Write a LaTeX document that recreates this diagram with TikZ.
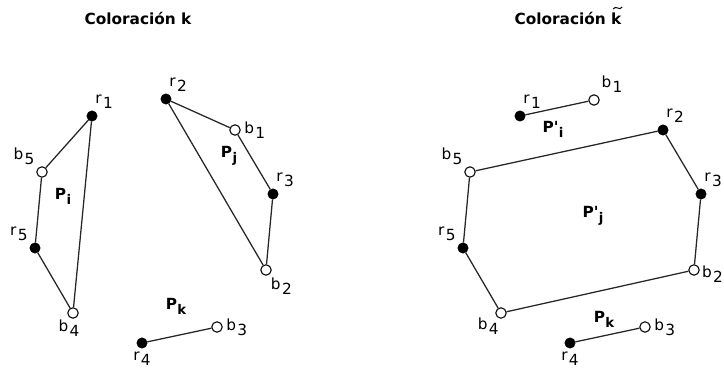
\documentclass[tikz,border=0pt]{standalone}
\usepackage{amsmath,amssymb}
\usepackage{fontspec}
\setmainfont{DejaVu Sans}
\usepackage{tikz}
\usetikzlibrary{positioning,calc}
\newcommand{\vlab}[2]{#1\kern1pt\raisebox{-0.6ex}{#2}}
\newcommand{\plab}[2]{\textbf{#1\kern0.3pt\raisebox{-0.6ex}{\fontsize{10}{12}\selectfont #2}}}
\tikzset{
	rv/.style={circle,draw=black,fill=black,inner sep=0pt,minimum size=7.8pt},
	bv/.style={circle,draw=black,fill=white,line width=0.8pt,inner sep=0pt,minimum size=7.8pt},
	edge/.style={draw=black!85,line width=0.95pt},
	every label/.style={font=\fontsize{11.5}{13}\selectfont,inner sep=2.5pt},
	ptext/.style={font=\fontsize{11.5}{13}\selectfont},
	title/.style={font=\fontsize{11.5}{14}\selectfont\bfseries,inner xsep=0pt},
}
\begin{document}
\begin{tikzpicture}[x=0.75pt,y=-0.75pt]
			\useasboundingbox (0,0) rectangle (724,374);
			% titles
			\node[title] (tk) at (138,18) {Coloración k};
			\node[title] (tkt) at (568,18) {Coloración k};
			% tilde over the k
			\coordinate (tl) at ($(tkt.base east)+(-8.5,-15)$);
			\coordinate (tr) at ($(tkt.base east)+(0.5,-17)$);
			\draw[line width=0.75pt] (tl) .. controls ($(tl)+(2.5,-4.5)$) and ($(tr)+(-2.5,4.5)$) .. (tr);
			% coloring k
			\node[rv,label={[xshift=-3pt]above right:\vlab{r}{1}}] (r1) at (92,116) {};
			\node[bv,label=above left:\vlab{b}{5}] (b5) at (42,172) {};
			\node[rv,label=above left:\vlab{r}{5}] (r5) at (35,248) {};
			\node[bv,label={[xshift=-3pt,yshift=2pt]below:\vlab{b}{4}}] (b4) at (73,313) {};
			\node[rv,label={[xshift=-3pt]above right:\vlab{r}{2}}] (r2) at (166,99) {};
			\node[bv,label=right:\vlab{b}{1}] (b1) at (235,130) {};
			\node[rv,label={[xshift=-3pt]above right:\vlab{r}{3}}] (r3) at (273,194) {};
			\node[bv,label={[xshift=-2pt]below right:\vlab{b}{2}}] (b2) at (266,270) {};
			\node[rv,label=below:\vlab{r}{4}] (r4) at (142,343) {};
			\node[bv,label=right:\vlab{b}{3}] (b3) at (217,327) {};
			\draw[edge] (r1)--(b5)--(r5)--(b4)--(r1);
			\draw[edge] (r2)--(b1)--(r3)--(b2)--(r2);
			\draw[edge] (r4)--(b3);
			\node[ptext] (pi) at (63,196) {\plab{P}{i}};
			\node[ptext] (pj) at (229,156) {\plab{P}{j}};
			\node[ptext] (pk) at (176,306) {\plab{P}{k}};
			% coloring k tilde
			\node[rv,label={[xshift=-3pt]above right:\vlab{r}{1}}] (r1t) at (520,116) {};
			\node[bv,label=above right:\vlab{b}{1}] (b1t) at (594,100) {};
			\node[rv,label={[xshift=-3pt]above right:\vlab{r}{2}}] (r2t) at (663,130) {};
			\node[bv,label=above left:\vlab{b}{5}] (b5t) at (470,172) {};
			\node[rv,label={[xshift=-3pt]above right:\vlab{r}{3}}] (r3t) at (701,194) {};
			\node[rv,label=above left:\vlab{r}{5}] (r5t) at (463,248) {};
			\node[bv,label={[yshift=-3pt,xshift=-1pt]right:\vlab{b}{2}}] (b2t) at (694,270) {};
			\node[bv,label={[xshift=4pt,yshift=2pt]below left:\vlab{b}{4}}] (b4t) at (501,313) {};
			\node[rv,label=below:\vlab{r}{4}] (r4t) at (570,343) {};
			\node[bv,label=right:\vlab{b}{3}] (b3t) at (645,327) {};
			\draw[edge] (r1t)--(b1t);
			\draw[edge] (b5t)--(r2t)--(r3t)--(b2t)--(b4t)--(r5t)--(b5t);
			\draw[edge] (r4t)--(b3t);
			\node[ptext] (pit) at (553,129) {\plab{P\textquotesingle}{i}};
			\node[ptext] (pjt) at (593,216) {\plab{P\textquotesingle}{j}};
			\node[ptext] (pkt) at (604,319) {\plab{P}{k}};
		\end{tikzpicture}
\end{document}
